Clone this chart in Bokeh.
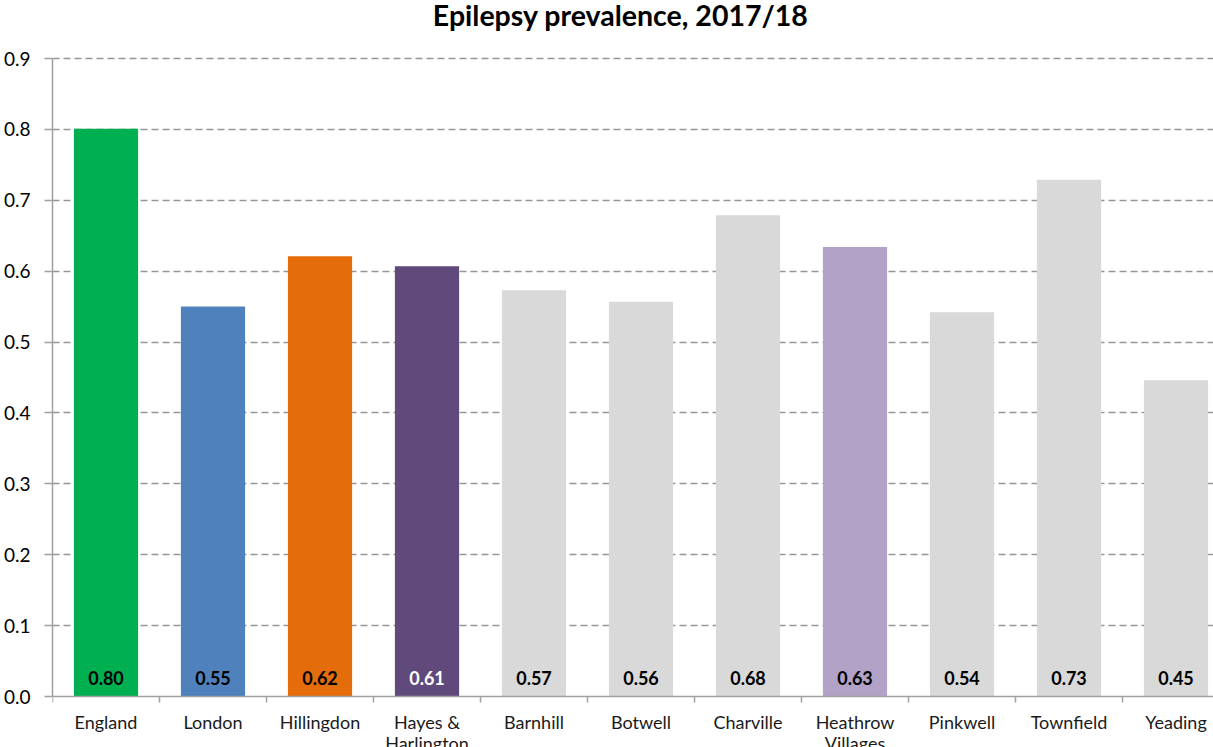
import math
from bokeh.plotting import figure
from bokeh.models import ColumnDataSource, Range1d, FixedTicker, NumeralTickFormatter, Span
from bokeh.core.properties import value
from bokeh.embed import file_html
from bokeh.resources import INLINE

title_text = "Epilepsy prevalence, 2017/18"
categories = ["England", "London", "Hillingdon", "Hayes &\nHarlington", "Barnhill", "Botwell",
              "Charville", "Heathrow\nVillages", "Pinkwell", "Townfield", "Yeading"]
values = [0.801, 0.550, 0.621, 0.607, 0.573, 0.557, 0.679, 0.634, 0.542, 0.729, 0.446]
colors = ["#00B050", "#4F81BD", "#E46C0A", "#604A7B", "#D9D9D9", "#D9D9D9",
          "#D9D9D9", "#B2A2C7", "#D9D9D9", "#D9D9D9", "#D9D9D9"]
label_colors = ["#000000", "#000000", "#000000", "#FFFFFF", "#000000", "#000000",
                "#000000", "#000000", "#000000", "#000000", "#000000"]
y_ticks = [0.0, 0.1, 0.2, 0.3, 0.4, 0.5, 0.6, 0.7, 0.8, 0.9]

FONT = "Lato"
AXIS_GREY = "#A0A0A0"
n = len(categories)
xs = [i + 0.5 for i in range(n)]
bounds = [float(i) for i in range(n + 1)]
line1 = [c.split("\n")[0] for c in categories]
line2 = [c.split("\n")[1] if "\n" in c else "" for c in categories]
src = ColumnDataSource(dict(
    x=xs, top=values, color=colors, lc=label_colors,
    lab=["%.2f" % v for v in values], zero=[0.0] * n, line1=line1, line2=line2,
))

# layout: value axis 0..0.9 spans 638 px, 58 px of room above (title), 51 px below (labels);
# each category is 107 px wide, the plot area starts 52 px from the left edge
PX_PER_UNIT = 638 / 0.9
p = figure(width=1213, height=747, output_backend="svg", toolbar_location=None,
           x_range=Range1d(0, (1213 - 52) / 107),
           y_range=Range1d(-51 / PX_PER_UNIT, 0.9 + 58 / PX_PER_UNIT),
           x_axis_location=None,
           min_border_left=52, min_border_right=0, min_border_top=0, min_border_bottom=0)
p.outline_line_color = None

p.xgrid.grid_line_color = None
p.ygrid.ticker = FixedTicker(ticks=y_ticks[1:])
p.ygrid.grid_line_color = "#969696"
p.ygrid.grid_line_dash = "7 4"
p.ygrid.grid_line_width = 1.5

p.vbar(x="x", top="top", width=0.6, fill_color="color", line_color=None, source=src)
p.text(x="x", y="zero", text="lab", text_color="lc", text_align="center",
       text_baseline="middle", y_offset=-19, text_font=value(FONT),
       text_font_size="18px", text_font_style="bold", source=src)

# category axis at y = 0
p.add_layout(Span(location=0, dimension="width", line_color=AXIS_GREY, line_width=1.5))
p.ray(x=bounds, y=[0.0] * len(bounds), length=6, length_units="screen",
      angle=-math.pi / 2, line_color=AXIS_GREY, line_width=1.5)
p.text(x="x", y="zero", text="line1", text_align="center", text_baseline="middle",
       y_offset=25, text_font=value(FONT), text_font_size="18px",
       text_color="#1a1a1a", source=src)
p.text(x="x", y="zero", text="line2", text_align="center", text_baseline="middle",
       y_offset=46, text_font=value(FONT), text_font_size="18px",
       text_color="#1a1a1a", source=src)

# title
p.text(x=[5.31], y=[0.9], text=[title_text], text_align="center", text_baseline="middle",
       y_offset=-44, text_font=value(FONT), text_font_size="28.5px",
       text_font_style="bold", text_color="#000000")

ya = p.yaxis[0]
ya.bounds = (0, 0.9)
ya.ticker = FixedTicker(ticks=y_ticks)
ya.formatter = NumeralTickFormatter(format="0.0")
ya.minor_tick_line_color = None
ya.major_tick_line_color = AXIS_GREY
ya.major_tick_out = 8
ya.major_tick_in = 0
ya.major_tick_line_width = 1.5
ya.axis_line_color = AXIS_GREY
ya.axis_line_width = 1.5
ya.major_label_standoff = 14
ya.major_label_text_font = FONT
ya.major_label_text_font_size = "19px"
ya.major_label_text_color = "#000000"

open("out.html", "w").write(file_html(p, INLINE))
